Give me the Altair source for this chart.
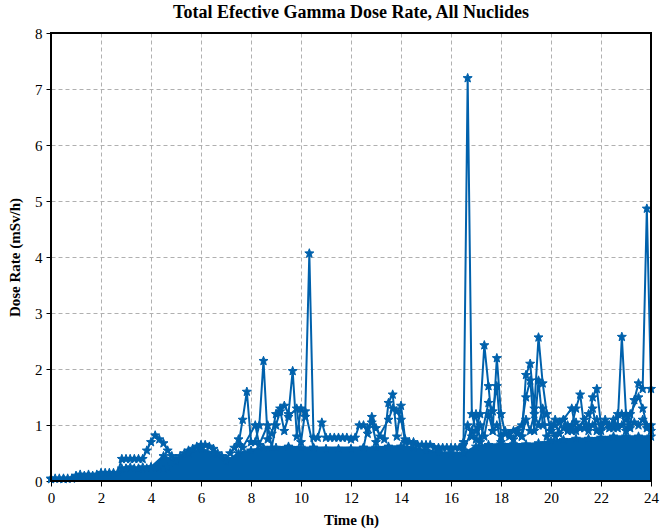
import math
import altair as alt
import pandas as pd

# ---- data (time in hours, dose rate in mSv/h) ----
# main trace sampled every 10 minutes (1/6 h), 0 .. 24 h
main_values = [
    0.05, 0.05, 0.05, 0.05, 0.05, 0.05,        # 0 h
    0.10, 0.12, 0.10, 0.12, 0.10, 0.12,        # 1 h
    0.15, 0.15, 0.15, 0.15, 0.15, 0.40,        # 2 h
    0.40, 0.40, 0.40, 0.40, 0.40, 0.55,        # 3 h
    0.70, 0.82, 0.75, 0.68, 0.55, 0.45,        # 4 h
    0.40, 0.45, 0.50, 0.55, 0.58, 0.62,        # 5 h
    0.65, 0.65, 0.62, 0.58, 0.50, 0.45,        # 6 h
    0.40, 0.50, 0.60, 0.65, 1.10, 1.60,        # 7 h
    0.70, 0.70, 1.00, 2.15, 0.75, 0.85,        # 8 h
    1.20, 1.30, 1.35, 1.20, 1.97, 0.80,        # 9 h
    1.30, 1.15, 4.07, 0.78, 0.78, 1.05,        # 10 h
    0.78, 0.78, 0.78, 0.78, 0.78, 0.78,        # 11 h
    0.75, 0.78, 1.00, 1.00, 0.85, 1.15,        # 12 h
    0.95, 0.80, 0.75, 1.40, 1.55, 0.80,        # 13 h
    1.35, 0.75, 0.70, 0.70, 0.65, 0.65,        # 14 h
    0.65, 0.65, 0.60, 0.60, 0.60, 0.60,        # 15 h
    0.60, 0.60, 0.60, 0.65, 7.20, 1.20,        # 16 h
    0.90, 1.20, 2.43, 1.70, 0.90, 2.20,        # 17 h
    1.20, 0.85, 0.85, 0.90, 0.85, 0.80,        # 18 h
    1.90, 2.10, 1.30, 2.57, 1.75, 1.20,        # 19 h
    0.90, 1.10, 1.05, 1.10, 0.90, 1.00,        # 20 h
    1.30, 1.55, 0.95, 1.00, 1.50, 1.65,        # 21 h
    1.00, 1.10, 1.00, 0.95, 1.00, 2.58,        # 22 h
    1.20, 1.00, 1.45, 1.75, 1.65, 4.87,        # 23 h
    1.65,                                      # 24 h
]
main_times = [i / 6 for i in range(len(main_values))]

# lower band trace (early hours)
band_times = [2.83, 3.0, 3.17, 3.33, 3.5, 3.67, 3.83, 4.0, 4.17, 4.33, 4.5, 4.67]
band_values = [0.23, 0.23, 0.25, 0.23, 0.23, 0.25, 0.23, 0.25, 0.23, 0.25, 0.23, 0.25]

# secondary trace with mid-level peaks
second_times = [7.5, 7.67, 8.17, 8.33, 8.67, 8.83, 9.0, 9.17, 9.33, 9.5, 9.83, 10.0,
                10.17, 10.5, 12.5, 12.67, 12.83, 13.0, 13.5, 13.67, 13.83, 14.0, 14.17,
                16.5, 16.83, 17.0, 17.17, 17.5, 17.67, 17.83, 18.0, 18.83, 19.0, 19.17,
                19.33, 19.5, 19.67, 20.0, 20.17, 20.5, 20.83, 21.0, 21.5, 21.67, 21.83,
                22.5, 22.67, 22.83, 23.0, 23.17, 23.5, 23.67, 23.83, 24.0]
second_values = [0.75, 0.60, 1.00, 0.65, 1.00, 0.60, 1.00, 1.25, 0.90, 1.15, 1.30, 0.70,
                 1.25, 0.60, 0.60, 0.95, 1.05, 0.70, 1.10, 1.30, 1.25, 1.10, 0.70,
                 0.55, 0.90, 1.20, 0.70, 1.40, 1.25, 1.70, 0.80, 1.00, 1.50, 1.80,
                 0.90, 1.80, 1.00, 1.00, 0.80, 1.10, 1.30, 0.90, 1.20, 1.30, 0.90,
                 1.00, 1.20, 1.20, 0.90, 1.20, 1.50, 1.30, 1.00, 0.90]

# third trace, 16.5 .. 24 h every 10 minutes (dense late-hours traces)
third_values = [0.70, 1.00, 0.80, 0.75, 1.00, 0.80, 1.20, 0.90, 1.00, 0.70, 0.90, 0.80,
                0.75, 0.90, 0.80, 1.10, 0.90, 1.20, 1.00, 1.30, 0.80, 0.90, 1.00, 0.85,
                0.95, 1.00, 0.90, 1.05, 0.95, 1.10, 0.90, 1.00, 1.10, 0.90, 1.05, 0.95,
                1.10, 0.95, 1.00, 1.10, 0.95, 1.05, 1.00, 1.10, 0.95, 1.00]
third_times = [16.5 + i / 6 for i in range(len(third_values))]

# top edge of the dense filled region formed by the many overlapping traces (every 0.5 h)
fill_values = [0.04, 0.04, 0.08, 0.08, 0.12, 0.12, 0.22, 0.22, 0.25, 0.45, 0.35, 0.50,
               0.58, 0.50, 0.35, 0.50, 0.55, 0.60, 0.60, 0.62, 0.60, 0.60, 0.58, 0.58,
               0.58, 0.60, 0.60, 0.62, 0.62, 0.60, 0.55, 0.52, 0.50, 0.50, 0.62, 0.65,
               0.66, 0.66, 0.66, 0.68, 0.72, 0.74, 0.76, 0.76, 0.78, 0.80, 0.80, 0.80,
               0.80]
fill_times = [i * 0.5 for i in range(len(fill_values))]

x_ticks = list(range(0, 25, 2))
y_ticks = list(range(0, 9))

BLUE = "#0061AC"
FONT = "Liberation Serif"

# 5-point star path in unit square
pts = []
for k in range(10):
    r = 1.0 if k % 2 == 0 else 0.42
    a = -math.pi / 2 + k * math.pi / 5
    pts.append((r * math.cos(a), r * math.sin(a) + 0.08))
star_path = "M" + " L".join(f"{x:.3f},{y:.3f}" for x, y in pts) + " Z"

rows = []
for name, ts, vs in [("main", main_times, main_values), ("band", band_times, band_values),
                     ("second", second_times, second_values),
                     ("third", third_times, third_values),
                     ("edge", fill_times, fill_values)]:
    for t, v in zip(ts, vs):
        rows.append({"t": t, "v": v, "s": name})
traces = pd.DataFrame(rows)
fill = pd.DataFrame({"t": fill_times, "v": fill_values})

xscale = alt.Scale(domain=[0, 24], nice=False, zero=False)
yscale = alt.Scale(domain=[0, 8], nice=False)

x_axis = alt.Axis(values=x_ticks, title="Time (h)", grid=True, format="d", labelFlush=False)
y_axis = alt.Axis(values=y_ticks, title="Dose Rate (mSv/h)", grid=True, format="d",
                  labelFlush=False)

area = alt.Chart(fill).mark_area(color=BLUE, opacity=1, interpolate="linear").encode(
    x=alt.X("t:Q", scale=xscale, axis=x_axis),
    y=alt.Y("v:Q", scale=yscale, axis=y_axis),
)

lines = alt.Chart(traces).mark_line(color=BLUE, strokeWidth=2).encode(
    x=alt.X("t:Q", scale=xscale),
    y=alt.Y("v:Q", scale=yscale),
    detail="s:N",
    order="t:Q",
)

stars = alt.Chart(traces).mark_point(
    shape=star_path, filled=True, color=BLUE, size=90, opacity=1,
    stroke=BLUE, strokeWidth=1
).encode(
    x=alt.X("t:Q", scale=xscale),
    y=alt.Y("v:Q", scale=yscale),
)

frame = alt.Chart(fill).mark_rect(
    fill=None, filled=False, stroke="#000", strokeWidth=1.3
).encode(
    x=alt.value(0), x2=alt.value(600), y=alt.value(0), y2=alt.value(448)
)

chart = alt.layer(area, lines, stars, frame).properties(
    width=600,
    height=448,
    title=alt.TitleParams(
        "Total Efective Gamma Dose Rate, All Nuclides",
        font=FONT, fontSize=18, fontWeight="bold", color="#000", offset=4,
    ),
    autosize=alt.AutoSizeParams(type="none"),
    padding={"left": 51, "top": 33, "right": 11, "bottom": 51},
).configure_view(
    stroke=None
).configure_axis(
    domain=False,
    gridColor="#b0b0b0", gridDash=[4, 3], gridWidth=1,
    tickColor="#000", tickSize=5, tickWidth=1,
    labelFont=FONT, labelFontSize=15, labelColor="#000", labelPadding=4,
    titleFont=FONT, titleFontSize=15, titleFontWeight="bold", titleColor="#000",
).configure_axisY(
    titlePadding=12,
).configure_axisX(
    titlePadding=7,
)

chart.save("out.html", embed_options={"renderer": "svg", "actions": False})
